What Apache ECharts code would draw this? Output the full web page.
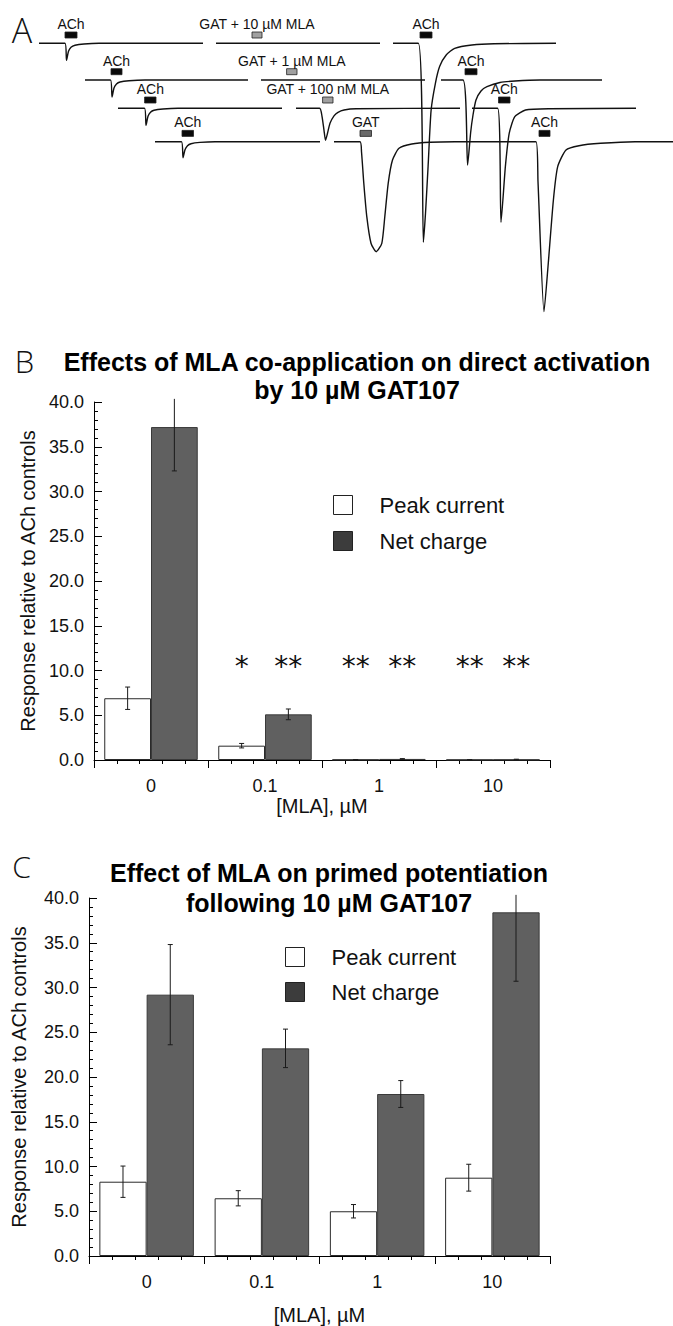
<!DOCTYPE html>
<html><head><meta charset="utf-8">
<script src="https://cdn.jsdelivr.net/npm/echarts@6/dist/echarts.min.js"></script>
<style>html,body{margin:0;padding:0;background:#fff}#c{width:673px;height:1326px}</style>
</head><body><div id="c"></div>
<script>
// ---------------- DATA ----------------
const categories = ['0', '0.1', '1', '10'];
const xAxisName = '[MLA], µM';
const yAxisName = 'Response relative to ACh controls';
const yTickLabels = ['0.0', '5.0', '10.0', '15.0', '20.0', '25.0', '30.0', '35.0', '40.0'];
const seriesNames = ['Peak current', 'Net charge'];

// Panel B: direct activation
const bPeak = [6.9, 1.6, 0.03, 0.02];
const bPeakErr = [1.25, 0.25, 0.01, 0.01];
const bNet = [37.2, 5.1, 0.12, 0.05];
const bNetErr = [4.9, 0.6, 0.03, 0.04];
const bSigPeak = ['', '*', '**', '**'];
const bSigNet = ['', '**', '**', '**'];

// Panel C: primed potentiation
const cPeak = [8.3, 6.45, 5.0, 8.75];
const cPeakErr = [1.75, 0.85, 0.75, 1.5];
const cNet = [29.2, 23.2, 18.1, 38.4];
const cNetErr = [5.6, 2.15, 1.5, 7.7];

// Panel A: current traces, [time, current] per sweep (arbitrary units, inward = negative)
const traceRow1 = [
  [[0,0],[26,0],[27.5,-17],[29.5,-8],[32,-4],[36,-2],[45,-0.7],[60,0],[164,0]],
  [[177,0],[341,0]],
  [[354,0],[379.3,0],[384.4,-199],[386.5,-170],[389.1,-123],[392.1,-67],[396.4,-40],[400.7,-23],[407.2,-11.7],[415.7,-5],[432.9,-1.7],[455,-0.4],[517,0]]
];
const traceRow2 = [
  [[0,0],[25.5,0],[27,-17],[29,-8],[31.5,-4],[35,-2],[44,-0.7],[60,0],[163,0]],
  [[176,0],[340,0]],
  [[356,0],[378,0],[382.6,-85],[385.6,-53],[388,-35],[391,-20],[396,-11],[402,-6.7],[415,-2.5],[430,-1],[455,0],[517,0]]
];
const traceRow3 = [
  [[0,0],[26.5,0],[28,-17],[30,-8],[32.5,-4],[36,-2],[45,-0.7],[60,0],[164,0]],
  [[178,0],[201.6,0],[204,-8],[206,-22],[207.5,-32],[209.5,-25],[212,-15],[216,-7.5],[220,-4],[226,-1.7],[238,-0.4],[342,0]],
  [[354,0],[379.6,0],[383,-114],[387.4,-58],[391.2,-25],[396.8,-8.4],[407.5,-1.7],[431,-0.4],[518,0]]
];
const traceRow4 = [
  [[0,0],[26.5,0],[28,-16],[30,-8],[32.5,-4],[36,-2],[45,-0.7],[60,0],[165,0]],
  [[179,0],[205,0],[206.5,-10],[208.8,-41.6],[211.8,-75],[216,-101.6],[221.2,-110],[226.8,-101.6],[229.8,-75],[233.2,-41.6],[237.5,-18.3],[244,-6.6],[256.8,-2.3],[275,-0.5],[300,0],[381,0],[383,-40],[389,-170],[393,-125],[398.4,-58.3],[402.7,-25],[411,-8.3],[424,-4],[445.6,-1.6],[480,0],[518,0]]
];
const traceRows = [traceRow1, traceRow2, traceRow3, traceRow4];

// drug applications: [row, start, end, label, kind]
const applications = [
  [0, 26, 38, 'ACh', 'ach'], [0, 213, 223, 'GAT + 10 µM MLA', 'mix'], [0, 381, 393, 'ACh', 'ach'],
  [1, 26, 37, 'ACh', 'ach'], [1, 201.6, 212, 'GAT + 1 µM MLA', 'mix'], [1, 380, 392, 'ACh', 'ach'],
  [2, 26.6, 38, 'ACh', 'ach'], [2, 204.6, 215, 'GAT + 100 nM MLA', 'mix'], [2, 380.5, 392, 'ACh', 'ach'],
  [3, 27, 38.5, 'ACh', 'ach'], [3, 205, 216.5, 'GAT', 'gat'], [3, 384, 395, 'ACh', 'ach']
];

// ---------------- LAYOUT ----------------
const rowShift = [39, 85, 118, 155];      // waterfall offsets of the sweeps
const rowBase = [43.3, 80, 108.3, 141.7];
const FONT = '"Liberation Sans", Arial, Helvetica, sans-serif';
const GAP = 0.18;
const appColor = {ach: '#0a0a0a', mix: '#a0a0a0', gat: '#6a6a6a'};

const chart = echarts.init(document.getElementById('c'), null, {renderer: 'svg', width: 673, height: 1326});

function catAxis(grid, nameGap) {
  return {
    gridIndex: grid, type: 'category', data: categories, boundaryGap: true,
    axisLine: {show: true, onZero: false, lineStyle: {color: '#000', width: 1}},
    axisTick: {show: false},
    axisLabel: {fontSize: 18, color: '#111', margin: 17, fontFamily: FONT},
    name: xAxisName, nameLocation: 'middle', nameGap: nameGap,
    nameTextStyle: {fontSize: 20, color: '#111', fontFamily: FONT}
  };
}
function tickAxis(grid) {
  return {
    gridIndex: grid, type: 'value', min: 0, max: categories.length, interval: 1, position: 'bottom',
    axisLine: {show: false}, axisLabel: {show: false}, splitLine: {show: false},
    axisTick: {show: true, length: 8, inside: false, lineStyle: {color: '#000'}},
    minorTick: {show: true, splitNumber: 5, length: 4, lineStyle: {color: '#000'}},
    minorSplitLine: {show: false}
  };
}
function valAxis(grid, nameGap) {
  return {
    gridIndex: grid, type: 'value', min: 0, max: 40, interval: 5,
    axisLine: {show: true, lineStyle: {color: '#000', width: 1}},
    axisTick: {show: true, inside: true, length: 8, lineStyle: {color: '#000'}},
    minorTick: {show: true, splitNumber: 5, length: 4, lineStyle: {color: '#000'}},
    splitLine: {show: false},
    axisLabel: {fontSize: 18, color: '#111', margin: 10, fontFamily: FONT,
      formatter: v => yTickLabels[Math.round(v / 5)]},
    name: yAxisName, nameLocation: 'middle', nameGap: nameGap, nameRotate: 90,
    nameTextStyle: {fontSize: 20, color: '#111', fontFamily: FONT}
  };
}
function errSeries(xi, yi, vals, errs, sign, max) {
  return {
    type: 'custom', xAxisIndex: xi, yAxisIndex: yi, z: 5, silent: true,
    data: vals.map((v, i) => [i, v, errs[i]]),
    renderItem: function (params, api) {
      const i = api.value(0), v = api.value(1), e = api.value(2);
      const band = api.size([1, 0])[0];
      const x = api.coord([i, v])[0] + sign * band * (1 - GAP) / 4;
      const hi = Math.min(v + e, max + 0.35);
      const yt = api.coord([i, hi])[1];
      const yb = api.coord([i, v - e])[1];
      const st = {stroke: '#1a1a1a', lineWidth: 1};
      const ch = [{type: 'line', shape: {x1: x, y1: yt, x2: x, y2: yb}, style: st},
                  {type: 'line', shape: {x1: x - 2.5, y1: yb, x2: x + 2.5, y2: yb}, style: st}];
      if (v + e <= max) ch.push({type: 'line', shape: {x1: x - 2.5, y1: yt, x2: x + 2.5, y2: yt}, style: st});
      return {type: 'group', children: ch};
    }
  };
}
function barSeries(xi, yi, name, vals, white) {
  return {
    type: 'bar', name: name, xAxisIndex: xi, yAxisIndex: yi, data: vals,
    barGap: '0%', barCategoryGap: (GAP * 100) + '%',
    itemStyle: white ? {color: '#ffffff', borderColor: '#2a2a2a', borderWidth: 1}
                     : {color: '#606060', borderColor: '#3a3a3a', borderWidth: 1}
  };
}

const series = [];
// Panel A traces
traceRows.forEach((row, r) => {
  row.forEach(sweep => {
    series.push({
      type: 'line', xAxisIndex: 0, yAxisIndex: 0, silent: true,
      data: sweep.map(p => [rowShift[r] + p[0], -rowBase[r] + p[1]]),
      symbol: 'none', smooth: 0.2, lineStyle: {color: '#111', width: 1.4}
    });
  });
});
series.push({
  type: 'custom', xAxisIndex: 0, yAxisIndex: 0, silent: true,
  data: applications.map(a => [rowShift[a[0]] + a[1], -rowBase[a[0]]]),
  renderItem: function (params, api) {
    const a = applications[params.dataIndex];
    const p0 = api.coord([rowShift[a[0]] + a[1], -rowBase[a[0]]]);
    const p1 = api.coord([rowShift[a[0]] + a[2], -rowBase[a[0]]]);
    const cx = (p0[0] + p1[0]) / 2;
    return {type: 'group', children: [
      {type: 'rect', shape: {x: p0[0], y: p0[1] - 11.3, width: p1[0] - p0[0], height: 6},
       style: {fill: appColor[a[4]], stroke: '#222', lineWidth: 0.8}},
      {type: 'text', x: cx, y: p0[1] - 19.5,
       style: {text: a[3], fill: '#111', fontSize: 14, fontFamily: FONT, align: 'center', verticalAlign: 'middle'}}
    ]};
  }
});
// Panel B
series.push(barSeries(1, 1, seriesNames[0], bPeak, true));
series.push(barSeries(1, 1, seriesNames[1], bNet, false));
series.push(errSeries(1, 1, bPeak, bPeakErr, -1, 40));
series.push(errSeries(1, 1, bNet, bNetErr, 1, 40));
series.push({
  type: 'custom', xAxisIndex: 1, yAxisIndex: 1, silent: true, z: 6,
  data: categories.map((c, i) => [i, 10.4]),
  renderItem: function (params, api) {
    const i = params.dataIndex;
    const band = api.size([1, 0])[0];
    const p = api.coord([i, api.value(1)]);
    const off = band * (1 - GAP) / 4;
    const mk = (t, x) => ({type: 'text', x: x, y: p[1],
      style: {text: t, fill: '#111', fontSize: 28, fontFamily: '"DejaVu Sans", sans-serif', align: 'center', verticalAlign: 'middle'}});
    return {type: 'group', children: [mk(bSigPeak[i], p[0] - off), mk(bSigNet[i], p[0] + off)]};
  }
});
// Panel C
series.push(barSeries(3, 2, seriesNames[0], cPeak, true));
series.push(barSeries(3, 2, seriesNames[1], cNet, false));
series.push(errSeries(3, 2, cPeak, cPeakErr, -1, 40));
series.push(errSeries(3, 2, cNet, cNetErr, 1, 40));

function legendAt(left, top, gap) {
  return {
    left: left, top: top, orient: 'vertical', itemWidth: 19, itemHeight: 19, itemGap: gap,
    selectedMode: false,
    data: [
      {name: seriesNames[0], icon: 'rect', itemStyle: {color: '#ffffff', borderColor: '#222', borderWidth: 1}},
      {name: seriesNames[1], icon: 'rect', itemStyle: {color: '#3c3c3c', borderColor: '#222', borderWidth: 1}}
    ],
    textStyle: {fontSize: 22, color: '#111', fontFamily: FONT, padding: [0, 0, 0, 22], lineHeight: 19}
  };
}

const option = {
  animation: false,
  backgroundColor: '#ffffff',
  grid: [
    {left: 0, top: 0, width: 673, height: 330},
    {left: 94, top: 402, width: 456, height: 358},
    {left: 89, top: 898, width: 461, height: 359}
  ],
  xAxis: [
    {gridIndex: 0, type: 'value', min: 0, max: 673, show: false},
    catAxis(1, 34), tickAxis(1),
    catAxis(2, 49), tickAxis(2)
  ],
  yAxis: [
    {gridIndex: 0, type: 'value', min: -330, max: 0, show: false},
    valAxis(1, 55), valAxis(2, 60)
  ],
  legend: [legendAt(328, 489, 14), legendAt(280, 941, 13)],
  graphic: [
    {type: 'text', x: 22, y: 30, style: {text: 'A', fontSize: 34, fontWeight: 300, fontFamily: '"Open Sans", "DejaVu Sans", sans-serif', fill: '#111', align: 'center', verticalAlign: 'middle'}},
    {type: 'text', x: 24.5, y: 361, style: {text: 'B', fontSize: 31, fontWeight: 300, fontFamily: '"Open Sans", "DejaVu Sans", sans-serif', fill: '#111', align: 'center', verticalAlign: 'middle'}},
    {type: 'text', x: 21.5, y: 866, style: {text: 'C', fontSize: 30, fontWeight: 300, fontFamily: '"Open Sans", "DejaVu Sans", sans-serif', fill: '#111', align: 'center', verticalAlign: 'middle'}},
    {type: 'text', x: 357, y: 376, style: {text: 'Effects of MLA co-application on direct activation\nby 10 µM GAT107', fontSize: 25, fontWeight: 'bold', lineHeight: 28, fontFamily: FONT, fill: '#000', align: 'center', verticalAlign: 'middle'}},
    {type: 'text', x: 329, y: 888, style: {text: 'Effect of MLA on primed potentiation\nfollowing 10 µM GAT107', fontSize: 25, fontWeight: 'bold', lineHeight: 30, fontFamily: FONT, fill: '#000', align: 'center', verticalAlign: 'middle'}}
  ],
  series: series
};
chart.setOption(option);
</script>
</body></html>
